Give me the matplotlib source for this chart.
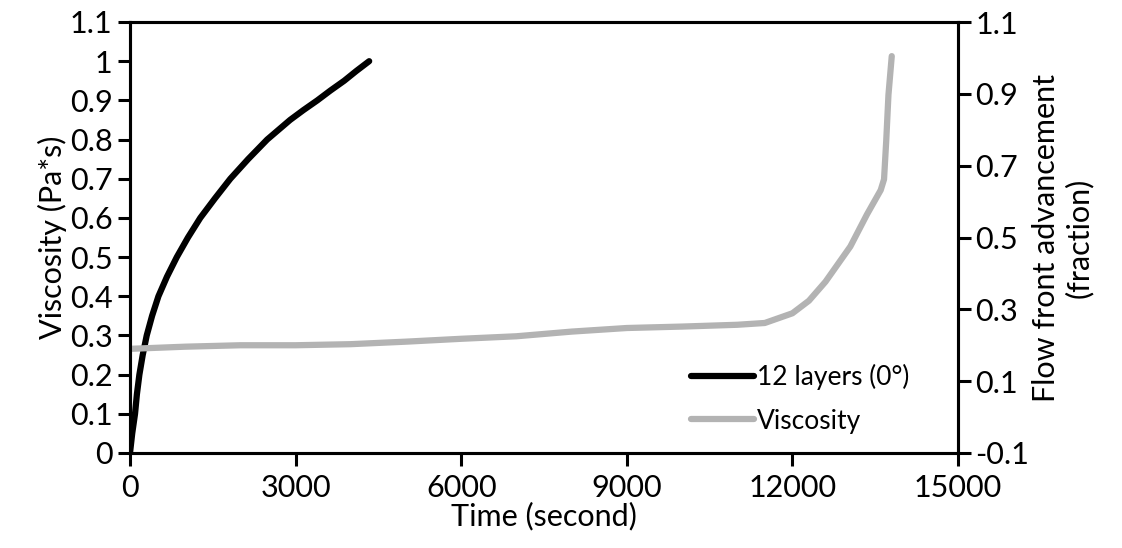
import numpy as np
import matplotlib.pyplot as plt
from matplotlib.ticker import FuncFormatter

# flow front (left axis)
t_front = [0, 40, 91, 125, 170, 230, 303, 400, 515, 670, 848, 1050, 1273, 1540, 1818,
           2140, 2485, 2900, 3140, 3394, 3630, 3880, 4100, 4333]
front = [0.0, 0.05, 0.1, 0.15, 0.2, 0.25, 0.3, 0.35, 0.4, 0.45, 0.5, 0.55, 0.6, 0.65, 0.7,
         0.75, 0.8, 0.85, 0.875, 0.9, 0.925, 0.95, 0.975, 1.0]

# viscosity (read on right axis scale)
t_visc = [0, 1000, 2000, 3000, 4000, 5000, 6000, 7000, 8000, 9000, 10000, 11000,
          11500, 12000, 12300, 12600, 13050, 13350, 13600, 13660, 13700, 13740, 13800]
visc = [0.19, 0.196, 0.20, 0.20, 0.203, 0.21, 0.218, 0.225, 0.238, 0.248, 0.252, 0.257,
        0.262, 0.289, 0.324, 0.377, 0.475, 0.564, 0.632, 0.662, 0.77, 0.897, 1.005]

plt.rcParams['font.family'] = ['Lato', 'DejaVu Sans']
plt.rcParams['font.size'] = 22

fig = plt.figure(figsize=(11.22, 5.48), dpi=100)
ax = fig.add_axes([130 / 1122, 1 - 453 / 548, 828 / 1122, 431 / 548])
ax2 = ax.twinx()

l1, = ax.plot(t_front, front, color='black', lw=4.5, solid_capstyle='round',
              solid_joinstyle='round', label='12 layers (0°)')
l2, = ax2.plot(t_visc, visc, color='#b3b3b3', lw=4.5, solid_capstyle='round',
               solid_joinstyle='round', label='Viscosity')

ax.set_xlim(0, 15000)
ax.set_ylim(0, 1.1)
ax2.set_ylim(-0.1, 1.1)
ax.set_xticks(np.arange(0, 15001, 3000))
ax.set_yticks(np.arange(0, 1.101, 0.1))
ax2.set_yticks(np.arange(-0.1, 1.101, 0.2))

fmt = FuncFormatter(lambda v, p: '{:g}'.format(round(v, 2)))
ax.yaxis.set_major_formatter(fmt)
ax2.yaxis.set_major_formatter(fmt)

for a in (ax, ax2):
    for s in a.spines.values():
        s.set_linewidth(2.2)
    a.tick_params(direction='out', length=9, width=2.2, labelsize=22)
ax.tick_params(axis='x', pad=6)

ax.set_xlabel('Time (second)', fontsize=22, labelpad=0)
ax.set_ylabel('Viscosity (Pa*s)', fontsize=22, labelpad=2)
ax2.set_ylabel('Flow front advancement\n(fraction)', fontsize=22, labelpad=2)

ax.legend([l1, l2], ['12 layers (0°)', 'Viscosity'], loc='lower right', frameon=False,
          fontsize=19, handlelength=2.4, handletextpad=0.1, labelspacing=0.7,
          bbox_to_anchor=(0.97, -0.01))

fig.savefig('out.png', dpi=100)
